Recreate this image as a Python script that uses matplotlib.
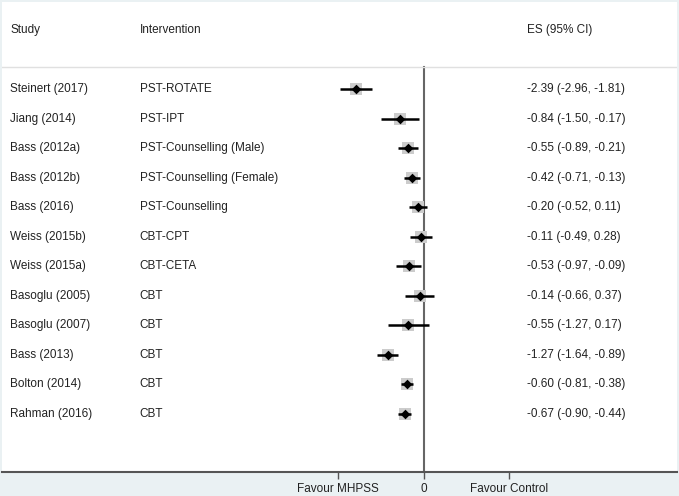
import matplotlib
matplotlib.use("Agg")
import matplotlib.pyplot as plt
import matplotlib.transforms as mtransforms

studies = ["Steinert (2017)", "Jiang (2014)", "Bass (2012a)", "Bass (2012b)", "Bass (2016)",
           "Weiss (2015b)", "Weiss (2015a)", "Basoglu (2005)", "Basoglu (2007)", "Bass (2013)",
           "Bolton (2014)", "Rahman (2016)"]
interventions = ["PST-ROTATE", "PST-IPT", "PST-Counselling (Male)", "PST-Counselling (Female)",
                 "PST-Counselling", "CBT-CPT", "CBT-CETA", "CBT", "CBT", "CBT", "CBT", "CBT"]
es = [-2.39, -0.84, -0.55, -0.42, -0.20, -0.11, -0.53, -0.14, -0.55, -1.27, -0.60, -0.67]
lo = [-2.96, -1.50, -0.89, -0.71, -0.52, -0.49, -0.97, -0.66, -1.27, -1.64, -0.81, -0.90]
hi = [-1.81, -0.17, -0.21, -0.13, 0.11, 0.28, -0.09, 0.37, 0.17, -0.89, -0.38, -0.44]
tick_vals = [-3, 0, 3]
tick_labels = ["Favour MHPSS", "0", "Favour Control"]

W, H = 679, 496
fig = plt.figure(figsize=(W / 100, H / 100), dpi=100, facecolor="#EAF1F3")
plt.rcParams["font.family"] = ["Liberation Sans", "DejaVu Sans"]
ax = fig.add_axes([2 / W, (H - 472) / H, 675 / W, 470 / H])
ax.set_facecolor("white")

ax.set_xlim(-14.82, 8.9)
ax.set_ylim(12.98, -2.95)

for s in ["top", "right", "left"]:
    ax.spines[s].set_visible(False)
ax.spines["bottom"].set_color("#555555")
ax.spines["bottom"].set_linewidth(1.5)
ax.set_yticks([])
ax.set_xticks(tick_vals)
ax.set_xticklabels(tick_labels)
ax.tick_params(axis="x", length=5, width=1, color="#555555", pad=3, labelsize=8.5, labelcolor="#222222")

# separator under header and zero line
ax.axhline(-0.75, color="#E0E0E0", lw=1)
ax.plot([0, 0], [-0.75, 12.98], color="#666666", lw=1.5, zorder=1)

rows = list(range(len(studies)))
ax.hlines(rows, lo, hi, color="black", lw=1.8, zorder=3)
ax.scatter(es, rows, marker="s", s=80, color="#CCCCCC", zorder=2, linewidths=0)
ax.scatter(es, rows, marker="D", s=24, color="black", zorder=4, linewidths=0)

trans = mtransforms.blended_transform_factory(ax.transAxes, ax.transData)
fs = 8.5
tc = "#222222"
ax.text(0.0119, -2, "Study", transform=trans, va="center", ha="left", fontsize=fs, color=tc)
ax.text(0.204, -2, "Intervention", transform=trans, va="center", ha="left", fontsize=fs, color=tc)
ax.text(0.778, -2, "ES (95% CI)", transform=trans, va="center", ha="left", fontsize=fs, color=tc)
for i in rows:
    ax.text(0.0119, i, studies[i], transform=trans, va="center", ha="left", fontsize=fs, color=tc)
    ax.text(0.204, i, interventions[i], transform=trans, va="center", ha="left", fontsize=fs, color=tc)
    ax.text(0.778, i, f"{es[i]:.2f} ({lo[i]:.2f}, {hi[i]:.2f})", transform=trans,
            va="center", ha="left", fontsize=fs, color=tc)

fig.savefig("out.png", dpi=100, facecolor=fig.get_facecolor())
